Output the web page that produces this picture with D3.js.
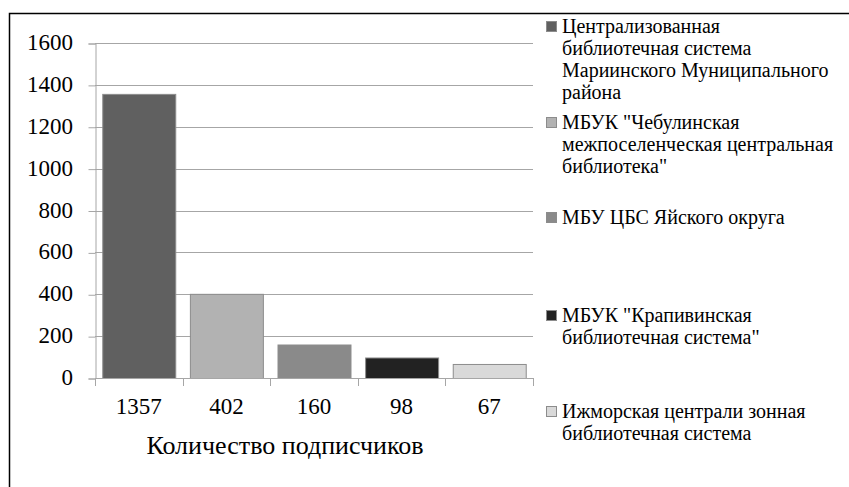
<!DOCTYPE html>
<html><head><meta charset="utf-8">
<script src="https://cdn.jsdelivr.net/npm/d3@7"></script>
<style>
body{margin:0;background:#fff;}
#wrap{position:relative;width:849px;height:487px;overflow:hidden;font-family:"Liberation Serif","Times New Roman",serif;color:#000;}
#wrap svg{position:absolute;left:0;top:0;}
.lbl{position:absolute;white-space:nowrap;font-family:"Liberation Serif","Times New Roman",serif;color:#000;}
</style>
</head><body>
<div id="wrap">
<div id="title" class="lbl" style="left:0;width:570px;text-align:center;font-size:26px;line-height:30px;top:430px;">Количество подписчиков</div>
</div>
<script>
const categories = ["1357", "402", "160", "98", "67"];
const values = [1357, 402, 160, 98, 67];
const seriesNames = [
  ["Централизованная", "библиотечная система", "Мариинского Муниципального", "района"],
  ["МБУК \"Чебулинская", "межпоселенческая центральная", "библиотека\""],
  ["МБУ ЦБС Яйского округа"],
  ["МБУК \"Крапивинская", "библиотечная система\""],
  ["Ижморская централи зонная", "библиотечная система"]
];
const colors = ["#606060", "#b2b2b2", "#8a8a8a", "#222222", "#d9d9d9"];
const yTicks = [0, 200, 400, 600, 800, 1000, 1200, 1400, 1600];

const wrap = d3.select("#wrap");
const svg = wrap.insert("svg", "#title").attr("width", 849).attr("height", 487);

// top of an HTML line box so that its baseline lands at `base`
function topFor(base, fs, lh) { return base - ((lh - 1.107 * fs) / 2 + 0.891 * fs); }

// frame
svg.append("path").attr("d", "M9.5,487 V13.5 H849").attr("fill", "none").attr("stroke", "#000").attr("stroke-width", 1.5);

const x0 = 95, x1 = 533, yTop = 43, yBot = 378;
const x = d3.scaleBand().domain(categories).range([x0, x1]).paddingInner(0.167).paddingOuter(0.083);
const y = d3.scaleLinear().domain([0, 1600]).range([yBot, yTop]);

// gridlines
svg.append("g").selectAll("line").data(yTicks).join("line")
  .attr("x1", x0).attr("x2", x1)
  .attr("y1", d => Math.round(y(d)) + 0.5).attr("y2", d => Math.round(y(d)) + 0.5)
  .attr("stroke", "#a6a6a6").attr("stroke-width", 1);

// y axis (lines from d3 axis; labels as text below)
const ya = svg.append("g").attr("transform", `translate(${x0 + 0.5},0.5)`)
  .call(d3.axisLeft(y).tickValues(yTicks).tickSize(7));
ya.select(".domain").attr("stroke", "#a6a6a6");
ya.selectAll(".tick line").attr("stroke", "#a6a6a6");
ya.selectAll(".tick text").remove();

wrap.selectAll(".ylbl").data(yTicks).join("div").attr("class", "lbl ylbl")
  .style("left", "0px").style("width", "73px").style("text-align", "right")
  .style("font-size", "23px").style("line-height", "26px")
  .style("top", d => topFor(y(d) + 7.8, 23, 26) + "px")
  .text(d => d3.format("d")(d));

// bars
svg.append("g").selectAll("rect").data(values).join("rect")
  .attr("x", (d, i) => x(categories[i]) + 0.5)
  .attr("y", d => y(d) + 0.5)
  .attr("width", x.bandwidth())
  .attr("height", d => yBot - y(d))
  .attr("fill", (d, i) => colors[i])
  .attr("stroke", "#8c8c8c").attr("stroke-width", 1);

// x axis
svg.append("line").attr("x1", x0).attr("x2", x1).attr("y1", yBot + 0.5).attr("y2", yBot + 0.5).attr("stroke", "#a6a6a6");
const bounds = d3.range(categories.length + 1).map(i => x0 + i * (x1 - x0) / categories.length);
svg.append("g").selectAll("line").data(bounds).join("line")
  .attr("x1", d => Math.round(d) + 0.5).attr("x2", d => Math.round(d) + 0.5)
  .attr("y1", yBot).attr("y2", yBot + 8).attr("stroke", "#a6a6a6");

wrap.selectAll(".xlbl").data(categories).join("div").attr("class", "lbl xlbl")
  .style("left", d => (x(d) + x.bandwidth() / 2 - 50) + "px").style("width", "100px").style("text-align", "center")
  .style("font-size", "23px").style("line-height", "26px")
  .style("top", topFor(415, 23, 26) + "px")
  .text(d => d);

// legend
const legendBase = [33, 129, 224, 322, 418];
const lineGap = 21.8;
svg.append("g").selectAll("rect").data(colors).join("rect")
  .attr("x", 546.5).attr("y", (d, i) => legendBase[i] - 11.5).attr("width", 10).attr("height", 10)
  .attr("fill", d => d).attr("stroke", "#8c8c8c");
const legendLines = seriesNames.flatMap((lines, i) => lines.map((t, j) => ({ t, base: legendBase[i] + j * lineGap })));
wrap.selectAll(".leg").data(legendLines).join("div").attr("class", "lbl leg")
  .style("left", "562px").style("font-size", "20px").style("line-height", "22px")
  .style("top", d => topFor(d.base, 20, 22) + "px")
  .text(d => d.t);

// keep the static title on top with correct baseline
d3.select("#title").style("top", topFor(455, 26, 30) + "px");
</script>
</body></html>
